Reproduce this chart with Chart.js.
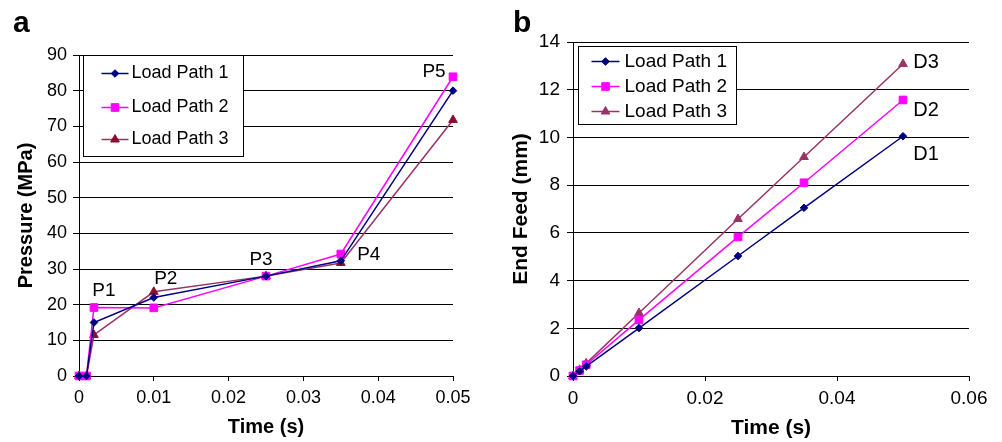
<!DOCTYPE html>
<html lang="en">
<head>
<meta charset="UTF-8" />
<title>Load paths: pressure and end feed</title>
<script src="https://cdn.jsdelivr.net/npm/chart.js@4"></script>
<style>
  html, body { margin: 0; padding: 0; background: #fff; }
  #wrap { position: relative; width: 1002px; height: 442px; overflow: hidden; }
  .panel { position: absolute; top: 0; height: 442px; }
  #panel-a { left: 0; width: 500px; }
  #panel-b { left: 500px; width: 502px; }
</style>
</head>
<body>
<div id="wrap">
  <div class="panel" id="panel-a"><canvas id="chart-a"></canvas></div>
  <div class="panel" id="panel-b"><canvas id="chart-b"></canvas></div>
</div>
<script>
const seriesNames = ['Load Path 1', 'Load Path 2', 'Load Path 3'];

// panel a: pressure vs time
const timeA = [0, 0.001, 0.002, 0.01, 0.025, 0.035, 0.05];
const pressure1 = [0, 0, 15, 22, 28, 32.3, 80];
const pressure2 = [0, 0, 19.2, 19.1, 28, 34.2, 83.9];
const pressure3 = [0, 0, 11.5, 23.6, 28, 31.7, 71.8];
const xTicksA = ['0', '0.01', '0.02', '0.03', '0.04', '0.05'];
const stageNamesA = ['P1', 'P2', 'P3', 'P4', 'P5'];

// panel b: end feed vs time
const timeB = [0, 0.001, 0.002, 0.01, 0.025, 0.035, 0.05];
const feed1 = [0, 0.2, 0.4, 2.01, 5.03, 7.05, 10.05];
const feed2 = [0, 0.23, 0.47, 2.35, 5.83, 8.1, 11.57];
const feed3 = [0, 0.26, 0.53, 2.64, 6.58, 9.18, 13.08];
const xTicksB = ['0', '0.02', '0.04', '0.06'];
const stageNamesB = ['D1', 'D2', 'D3'];

Chart.defaults.font.family = '"Liberation Sans", Arial, Helvetica, sans-serif';
Chart.defaults.color = '#000';

const pts = (xs, ys) => xs.map((x, i) => ({ x: x, y: ys[i] }));

// legend box drawn inside the plot area
function boxLegend(cfg) {
  return {
    id: 'boxLegend',
    afterDraw(chart) {
      const { ctx, chartArea } = chart;
      const left = Math.round(chartArea.left + cfg.dx) + 0.5;
      const top = Math.round(chartArea.top + cfg.dy) + 0.5;
      ctx.save();
      ctx.fillStyle = '#fff';
      ctx.fillRect(left, top, cfg.w, cfg.h);
      ctx.strokeStyle = '#000';
      ctx.lineWidth = 1;
      ctx.strokeRect(left, top, cfg.w, cfg.h);
      ctx.font = cfg.font;
      ctx.textBaseline = 'middle';
      ctx.textAlign = 'left';
      chart.data.datasets.forEach((ds, i) => {
        const y = top + cfg.rows[i];
        ctx.strokeStyle = ds.borderColor;
        ctx.lineWidth = ds.borderWidth;
        ctx.beginPath();
        ctx.moveTo(left + cfg.x0, y);
        ctx.lineTo(left + cfg.x1, y);
        ctx.stroke();
        ctx.fillStyle = ds.pointBackgroundColor;
        ctx.strokeStyle = ds.pointBorderColor;
        ctx.lineWidth = 1;
        Chart.helpers.drawPoint(ctx, { pointStyle: ds.pointStyle, radius: ds.pointRadius, rotation: 0, borderWidth: 1 },
          left + (cfg.x0 + cfg.x1) / 2, y);
        ctx.fillStyle = '#000';
        ctx.fillText(ds.label, left + cfg.tx, y);
      });
      ctx.restore();
    }
  };
}

// stage names next to points + panel letter
function marks(cfg) {
  return {
    id: 'marks',
    afterDatasetsDraw(chart) {
      const ctx = chart.ctx;
      ctx.save();
      ctx.font = cfg.font;
      ctx.fillStyle = '#000';
      ctx.textAlign = 'center';
      ctx.textBaseline = 'middle';
      cfg.items.forEach(it => {
        const p = chart.getDatasetMeta(it.ds).data[it.i];
        ctx.fillText(it.text, p.x + it.dx, p.y + it.dy);
      });
      ctx.font = 'bold 30px "Liberation Sans", Arial, sans-serif';
      ctx.textAlign = 'left';
      ctx.textBaseline = 'alphabetic';
      ctx.fillText(cfg.letter, 13, 32);
      ctx.restore();
    }
  };
}

function dataset(label, data, color, pointColor, style, radius) {
  return {
    label: label, data: data,
    borderColor: color, backgroundColor: pointColor,
    pointBackgroundColor: pointColor, pointBorderColor: pointColor,
    pointStyle: style, pointRadius: radius, pointBorderWidth: 1,
    borderWidth: 1.5, tension: 0, clip: false
  };
}

function axes(o) {
  return {
    x: {
      type: 'linear', min: 0, max: o.xMax,
      ticks: { stepSize: o.xStep, autoSkip: false, maxRotation: 0, padding: o.xPad,
        font: { size: o.tickSize }, callback: (v, i) => o.xTicks[i] },
      grid: { drawOnChartArea: false, tickLength: 5, tickColor: '#000' },
      border: { color: '#000', width: 1 },
      title: { display: true, text: 'Time (s)', font: { size: o.titleSize, weight: 'bold' },
        padding: { top: 0, bottom: o.xTitlePad } },
      afterFit(s) { s.height = 66; }
    },
    y: {
      min: 0, max: o.yMax,
      ticks: { stepSize: o.yStep, padding: o.yPad, font: { size: o.tickSize } },
      grid: { color: '#000', lineWidth: 1, tickLength: 6 },
      border: { color: '#000', width: 1 },
      title: { display: true, text: o.yTitle, font: { size: o.titleSize, weight: 'bold' },
        padding: { top: o.yTitlePad, bottom: 0 } },
      afterFit(s) { s.width = o.yWidth; }
    }
  };
}

new Chart(document.getElementById('chart-a'), {
  type: 'line',
  data: {
    datasets: [
      dataset(seriesNames[0], pts(timeA, pressure1), '#000080', '#000080', 'rectRot', 3.8),
      dataset(seriesNames[1], pts(timeA, pressure2), '#ff00ff', '#ff00ff', 'rect', 5.4),
      dataset(seriesNames[2], pts(timeA, pressure3), '#993366', '#8a0f2e', 'triangle', 5)
    ]
  },
  options: {
    responsive: true, maintainAspectRatio: false, animation: false,
    layout: { padding: { top: 55, right: 47, left: 0, bottom: 0 } },
    plugins: { legend: { display: false }, tooltip: { enabled: false } },
    scales: axes({ xMax: 0.05, xStep: 0.01, xTicks: xTicksA, yMax: 90, yStep: 10,
      yTitle: 'Pressure (MPa)', tickSize: 18, titleSize: 20, xPad: 6, yPad: 6,
      xTitlePad: 3, yTitlePad: 14, yWidth: 79 })
  },
  plugins: [
    boxLegend({ dx: 4, dy: 0, w: 160, h: 101, rows: [18, 52, 84], x0: 18, x1: 45, tx: 48,
      font: '18px "Liberation Sans", Arial, sans-serif' }),
    marks({ letter: 'a', font: '19px "Liberation Sans", Arial, sans-serif', items: [
      { text: stageNamesA[0], ds: 1, i: 2, dx: 10, dy: -17 },
      { text: stageNamesA[1], ds: 0, i: 3, dx: 12, dy: -19 },
      { text: stageNamesA[2], ds: 1, i: 4, dx: -5, dy: -16 },
      { text: stageNamesA[3], ds: 0, i: 5, dx: 28, dy: -6 },
      { text: stageNamesA[4], ds: 1, i: 6, dx: -19, dy: -5 }
    ] })
  ]
});

new Chart(document.getElementById('chart-b'), {
  type: 'line',
  data: {
    datasets: [
      dataset(seriesNames[0], pts(timeB, feed1), '#000080', '#000080', 'rectRot', 3.8),
      dataset(seriesNames[1], pts(timeB, feed2), '#ff00ff', '#ff00ff', 'rect', 5.4),
      dataset(seriesNames[2], pts(timeB, feed3), '#993366', '#993366', 'triangle', 5)
    ]
  },
  options: {
    responsive: true, maintainAspectRatio: false, animation: false,
    layout: { padding: { top: 42, right: 33, left: 0, bottom: 0 } },
    plugins: { legend: { display: false }, tooltip: { enabled: false } },
    scales: axes({ xMax: 0.06, xStep: 0.02, xTicks: xTicksB, yMax: 14, yStep: 2,
      yTitle: 'End Feed (mm)', tickSize: 19, titleSize: 21, xPad: 6, yPad: 7,
      xTitlePad: 1, yTitlePad: 9, yWidth: 73 })
  },
  plugins: [
    boxLegend({ dx: 5, dy: 4, w: 158, h: 78, rows: [15, 40, 65], x0: 13, x1: 41, tx: 46,
      font: '19px "Liberation Sans", Arial, sans-serif' }),
    marks({ letter: 'b', font: '20px "Liberation Sans", Arial, sans-serif', items: [
      { text: stageNamesB[0], ds: 0, i: 6, dx: 23, dy: 18 },
      { text: stageNamesB[1], ds: 1, i: 6, dx: 23, dy: 11 },
      { text: stageNamesB[2], ds: 2, i: 6, dx: 23, dy: -1 }
    ] })
  ]
});
</script>
</body>
</html>
